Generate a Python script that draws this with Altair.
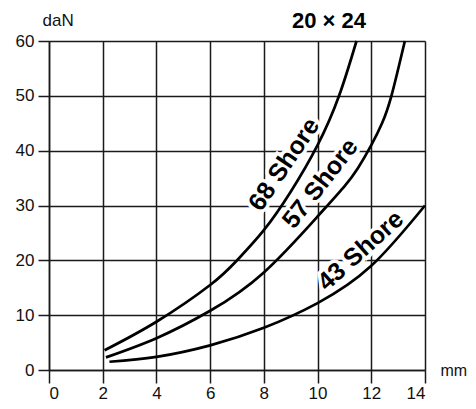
import altair as alt
import pandas as pd

# Curves (deflection mm -> load daN)
x68 = [2.07, 4, 6, 7, 8, 9, 10, 10.8, 11.45]
y68 = [3.6, 8.8, 15.5, 20, 25.5, 32.5, 41, 50, 60]
x57 = [2.12, 4, 6, 8, 10, 11, 11.5, 12, 12.4, 12.75, 13.25]
y57 = [2.3, 5.8, 10.8, 17.8, 28, 33.5, 36.8, 41, 45, 50, 60]
x43 = [2.25, 4, 6, 8, 10, 12, 14]
y43 = [1.5, 2.4, 4.5, 7.7, 12.2, 19, 30]

labels = ["68 Shore", "57 Shore", "43 Shore"]
label_x = [8.75, 10.1, 11.6]
label_y = [37.5, 34, 21.8]
label_angle = [304, 308, 318]

title_text = ["20 × 24"]

x_ticks = [0, 2, 4, 6, 8, 10, 12, 14]
y_ticks = [0, 10, 20, 30, 40, 50, 60]

rows = []
for name, xs, ys in [("68", x68, y68), ("57", x57, y57), ("43", x43, y43)]:
    for a, b in zip(xs, ys):
        rows.append({"series": name, "x": a, "y": b})
curves = pd.DataFrame(rows)
lab = pd.DataFrame({"text": labels, "x": label_x, "y": label_y, "angle": label_angle})
ttl = pd.DataFrame({"text": title_text})

FONT = "Liberation Sans"

xscale = alt.Scale(domain=[0, 14], nice=False)
yscale = alt.Scale(domain=[0, 60], nice=False)

xaxis = alt.Axis(values=x_ticks, grid=True, gridColor="#1a1a1a", gridWidth=1.5, gridOpacity=1,
                 domain=True, domainColor="#1a1a1a", domainWidth=1.5,
                 ticks=True, tickSize=13, tickColor="#1a1a1a", tickWidth=1.5,
                 labelFont=FONT, labelFontSize=17, labelColor="#111", labelPadding=2,
                 title="mm", titleFont=FONT, titleFontSize=16, titleFontWeight="normal",
                 titleColor="#111", titleAngle=0, titleAlign="left", titleBaseline="middle",
                 titleX=391, titleY=0)
yaxis = alt.Axis(values=y_ticks, grid=True, gridColor="#1a1a1a", gridWidth=1.5, gridOpacity=1,
                 domain=True, domainColor="#1a1a1a", domainWidth=1.5,
                 ticks=True, tickSize=11, tickColor="#1a1a1a", tickWidth=1.5,
                 labelFont=FONT, labelFontSize=17, labelColor="#111", labelPadding=4,
                 title="daN", titleFont=FONT, titleFontSize=17, titleFontWeight="normal",
                 titleColor="#111", titleAngle=0, titleAlign="left", titleBaseline="middle",
                 titleX=-7, titleY=-21)

lines = alt.Chart(curves).mark_line(color="black", strokeWidth=2.7, interpolate="natural").encode(
    x=alt.X("x:Q", scale=xscale, axis=xaxis),
    y=alt.Y("y:Q", scale=yscale, axis=yaxis),
    detail="series:N",
)

halo = alt.Chart(lab).mark_text(font=FONT, fontSize=25, fontWeight="bold", color="white",
                                stroke="white", strokeWidth=7, align="center", baseline="middle").encode(
    x=alt.X("x:Q", scale=xscale), y=alt.Y("y:Q", scale=yscale),
    text="text:N", angle=alt.Angle("angle:Q", scale=None))
txt = alt.Chart(lab).mark_text(font=FONT, fontSize=25, fontWeight="bold", color="black",
                               align="center", baseline="middle").encode(
    x=alt.X("x:Q", scale=xscale), y=alt.Y("y:Q", scale=yscale),
    text="text:N", angle=alt.Angle("angle:Q", scale=None))

title_mark = alt.Chart(ttl).mark_text(font=FONT, fontSize=22, fontWeight="bold", color="black",
                                      align="center", baseline="middle").encode(
    x=alt.value(280), y=alt.value(-20), text="text:N")

chart = alt.layer(lines, halo, txt, title_mark).properties(
    width=376, height=329,
    autosize=alt.AutoSizeParams(type="none"),
    padding={"left": 41, "top": 33, "right": 43, "bottom": 31},
).configure_view(stroke="#1a1a1a", strokeWidth=1.5).configure(background="white")

chart.save("out.html", embed_options={"renderer": "svg", "actions": False})
